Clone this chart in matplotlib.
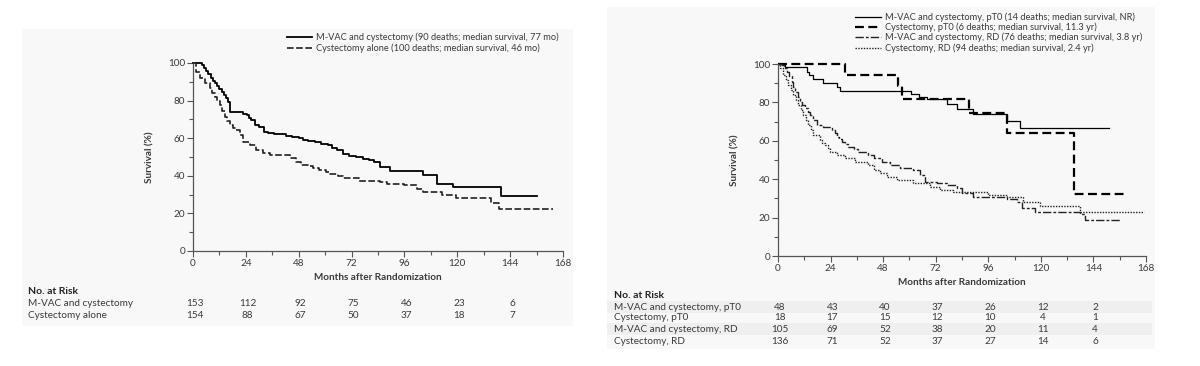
import matplotlib
matplotlib.use("Agg")
import matplotlib.pyplot as plt
import matplotlib.transforms as mtransforms
from matplotlib.patches import Rectangle
from matplotlib.lines import Line2D

plt.rcParams['font.family'] = ['Lato', 'DejaVu Sans']

W, H = 1200, 366

# ---- left panel: overall survival, (month, % surviving) step points ----
mvac_pts = [(0, 100), (4, 99), (5, 97.5), (6, 95.5), (7, 94), (8, 92), (9, 90.5), (10, 89.5), (11, 88),
            (12, 86), (13, 84.5), (14, 83), (15, 81.5), (16, 79.5), (16.8, 74.1), (22.8, 73), (24.3, 72.3),
            (25.5, 71), (26.5, 69.7), (28, 67), (30, 66), (32.3, 63.5), (34, 63), (36.8, 62.2), (39, 62),
            (42, 61.3), (45, 60.5), (48, 59.9), (50, 59), (52, 58.5), (55.4, 57.8), (58, 57), (61.5, 56.4),
            (63, 55), (65.3, 53.7), (68, 51.5), (71, 50.7), (74, 50), (77, 49), (80, 48.4), (82, 47.5),
            (85, 44.7), (89.4, 42.5), (104.4, 40.4), (110.7, 35.6), (118, 34.2), (139.8, 29.4), (156, 29.4)]
cyst_pts = [(0, 100), (1.5, 95.4), (3, 91.8), (5.3, 89.2), (7.5, 86.5), (8.7, 84), (9.8, 82.1), (11, 80),
            (12.1, 77.7), (13.2, 74.5), (14.4, 71.4), (15.5, 69), (16.6, 67), (18, 65.5), (19.6, 64.4),
            (21.2, 61.7), (22.7, 58.1), (25.7, 56.4), (28.7, 53.7), (31.8, 52), (34.8, 51), (43.9, 49.3),
            (46.9, 47.2), (49, 46), (52, 45), (54.5, 44), (57, 43), (60.5, 42), (62, 41), (66, 40),
            (68, 38.8), (75.5, 37.2), (85, 36.5), (88, 35.6), (96, 35), (101.6, 32.9), (104.5, 31.6),
            (113, 29.8), (119.6, 28.2), (135.5, 25.3), (139, 22.2), (163.5, 22.2)]
left_labels = ["M-VAC and cystectomy (90 deaths; median survival, 77 mo)",
               "Cystectomy alone (100 deaths; median survival, 46 mo)"]
left_risk_names = ["M-VAC and cystectomy", "Cystectomy alone"]
left_risk = [[153, 112, 92, 75, 46, 23, 6],
             [154, 88, 67, 50, 37, 18, 7]]

# ---- right panel: by pathological stage ----
mp_pts = [(0, 100), (3.2, 98.6), (13.1, 96), (14.3, 94.3), (16.1, 92.2), (20.7, 89.9), (26.8, 88.2),
          (28.3, 86.1), (60.5, 84.2), (64.5, 83), (68, 81.9), (77, 79), (81.7, 76.7), (89, 73.9),
          (104.5, 70.4), (110.6, 66.6), (151, 66.6)]
cp_pts = [(0, 100), (30.4, 94.4), (55, 88.5), (56.8, 82), (87, 74.4), (104.5, 64), (135, 32.2),
          (158.6, 32.2)]
mr_pts = [(0, 100), (1.7, 99.5), (2.8, 98), (4, 96), (5, 93.5), (6.2, 90.8), (7, 88), (7.8, 85.6),
          (9, 83), (10, 80.4), (11, 78.5), (12.3, 76.9), (13.5, 75), (14.6, 73.4), (16, 71), (17.7, 68.2),
          (20.7, 67.4), (24.5, 65.6), (25.8, 64), (26.8, 62.1), (28, 60.8), (29.1, 59.5), (30.5, 58.2),
          (32.1, 56.9), (34.5, 55.5), (36.7, 54.3), (41.2, 52.6), (44, 51), (47.3, 49.1), (51.1, 47.4),
          (55.7, 45.7), (61.8, 44.8), (64.8, 42.2), (67.1, 38.7), (72.5, 37.8), (77, 37), (81.6, 35.3),
          (83.9, 32.7), (89.2, 30.9), (96.8, 30.6), (104.4, 29.7), (109, 28.3), (111.2, 24.8),
          (117.3, 22.8), (138, 22), (140, 18.7), (156, 18.7)]
cr_pts = [(0, 100), (1, 97.8), (2.4, 94.3), (3.5, 91.5), (4.7, 89), (6, 86.5), (7, 83.9), (8.2, 81),
          (9.3, 78.6), (10.5, 76), (11.6, 73.4), (12.7, 71), (13.8, 68.2), (15, 65.5), (16.1, 63),
          (19.2, 60.4), (20.3, 59), (21.5, 57.8), (22.6, 56), (23.7, 54.3), (26.8, 52.6), (30.6, 50.9),
          (35.2, 49.1), (41.2, 47.6), (43.7, 45), (46.6, 43.1), (49.6, 41.3), (54.2, 39.6), (61.8, 37.8),
          (69.4, 36.1), (74, 34.4), (80, 33.5), (96, 31.8), (104.5, 30.5), (111.9, 28.3), (119.6, 26),
          (138, 23), (167, 23)]
right_labels = ["M-VAC and cystectomy, pT0 (14 deaths; median survival, NR)",
                "Cystectomy, pT0 (6 deaths; median survival, 11.3 yr)",
                "M-VAC and cystectomy, RD (76 deaths; median survival, 3.8 yr)",
                "Cystectomy, RD (94 deaths; median survival, 2.4 yr)"]
right_risk_names = ["M-VAC and cystectomy, pT0", "Cystectomy, pT0",
                    "M-VAC and cystectomy, RD", "Cystectomy, RD"]
right_risk = [[48, 43, 40, 37, 26, 12, 2],
              [18, 17, 15, 12, 10, 4, 1],
              [105, 69, 52, 38, 20, 11, 4],
              [136, 71, 52, 37, 27, 14, 6]]

xticks = [0, 24, 48, 72, 96, 120, 144, 168]
risk_months = xticks[:7]
yticks = [0, 20, 40, 60, 80, 100]

TXT = '#3a3a3a'
LEG_FS = 6.7
TAB_FS = 7.2
TICK_FS = 7.2


def fx(px):
    return px / W


def fy(py):
    return 1 - py / H


def axes_px(fig, x0, x1, ytop, ybot):
    return fig.add_axes([fx(x0), fy(ybot), fx(x1) - fx(x0), fy(ytop) - fy(ybot)])


def style_axes(ax):
    ax.set_facecolor('none')
    ax.set_xlim(0, 168)
    ax.set_ylim(0, 100)
    ax.set_xticks(xticks)
    ax.set_yticks(yticks)
    ax.set_xticks(range(12, 168, 24), minor=True)
    ax.set_yticks(range(10, 100, 20), minor=True)
    for s in ['top', 'right']:
        ax.spines[s].set_visible(False)
    for s in ['left', 'bottom']:
        ax.spines[s].set_color('#555555')
        ax.spines[s].set_linewidth(0.9)
    ax.tick_params(which='major', length=4, width=0.8, color='#555555', labelsize=TICK_FS,
                   labelcolor=TXT, pad=1.5)
    ax.tick_params(which='minor', length=3, width=0.8, color='#555555')
    ax.set_ylabel('Survival (%)', fontsize=TAB_FS, color=TXT, fontweight='bold', labelpad=10)
    ax.set_xlabel('Months after Randomization', fontsize=TAB_FS, color=TXT, fontweight='bold',
                  labelpad=4)


def km(ax, pts, **kw):
    t = [p[0] for p in pts]
    s = [p[1] for p in pts]
    ax.step(t, s, where='post', clip_on=False, **kw)


def legend_px(fig, x0, x1, ys, labels, styles):
    for y, lab, st in zip(ys, labels, styles):
        fig.add_artist(Line2D([fx(x0), fx(x1)], [fy(y), fy(y)], transform=fig.transFigure, **st))
        fig.text(fx(x1 + 4), fy(y), lab, fontsize=LEG_FS, color=TXT, va='center', ha='left')


def risk_table(fig, ax, xlab, ytitle, yrows, names, values, shade=None):
    fig.text(fx(xlab), fy(ytitle), 'No. at Risk', fontsize=TAB_FS + 0.3, color='#222222',
             fontweight='bold', va='center')
    tr = mtransforms.blended_transform_factory(ax.transData, fig.transFigure)
    for i, (name, row) in enumerate(zip(names, values)):
        y = yrows[i]
        if shade is not None and i % 2 == 0:
            fig.add_artist(Rectangle((fx(shade[0]), fy(y + 6)), fx(shade[1] - shade[0]), 12 / H,
                                     transform=fig.transFigure, color='#efefef', lw=0, zorder=0))
        fig.text(fx(xlab), fy(y), name, fontsize=TAB_FS, color=TXT, va='center')
        for m, v in zip(risk_months, row):
            fig.text(m + 0.8, fy(y), str(v), transform=tr, fontsize=TAB_FS, color=TXT,
                     va='center', ha='center')


fig = plt.figure(figsize=(12, 3.66), dpi=100)
fig.patch.set_facecolor('white')
fig.add_artist(Rectangle((fx(22), fy(326)), fx(551), 297 / H, transform=fig.transFigure,
                         color='#f8f8f8', lw=0, zorder=0))
fig.add_artist(Rectangle((fx(607), fy(349)), fx(548), 342 / H, transform=fig.transFigure,
                         color='#f8f8f8', lw=0, zorder=0))

solid = dict(color='black', lw=1.3)
dashed = dict(color='#222222', lw=1.2, ls=(0, (4, 1.5)))
thin = dict(color='black', lw=0.9)
thick_dash = dict(color='black', lw=1.6, ls=(0, (4, 2)))
dash_dot = dict(color='#222222', lw=1.0, ls=(0, (6, 1.5, 2, 1.5)))
dotted = dict(color='#222222', lw=1.0, ls=(0, (1, 1)))

# left
ax1 = axes_px(fig, 193, 563, 63, 251)
style_axes(ax1)
km(ax1, mvac_pts, **solid)
km(ax1, cyst_pts, **dashed)
legend_px(fig, 287, 312, [37, 48], left_labels, [solid, dashed])
risk_table(fig, ax1, 28, 292, [304, 315], left_risk_names, left_risk)

# right
ax2 = axes_px(fig, 778, 1146, 64, 256)
style_axes(ax2)
km(ax2, mp_pts, **thin)
km(ax2, cp_pts, **thick_dash)
km(ax2, mr_pts, **dash_dot)
km(ax2, cr_pts, **dotted)
legend_px(fig, 855, 881, [17, 27, 37, 48], right_labels, [thin, thick_dash, dash_dot, dotted])
risk_table(fig, ax2, 614, 295, [307, 318, 329, 341], right_risk_names, right_risk,
           shade=(607, 1152))

fig.savefig('out.png', dpi=100)
